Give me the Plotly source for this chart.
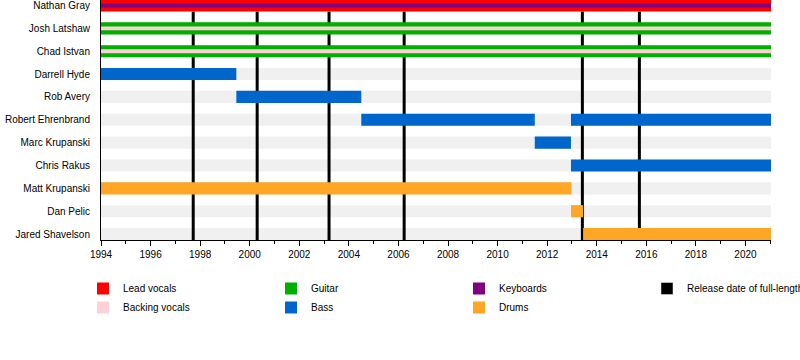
import plotly.graph_objects as go

# ---------------- data ----------------
members = ["Nathan Gray", "Josh Latshaw", "Chad Istvan", "Darrell Hyde", "Rob Avery",
           "Robert Ehrenbrand", "Marc Krupanski", "Chris Rakus", "Matt Krupanski",
           "Dan Pelic", "Jared Shavelson"]

start_year = 1994.0
end_year = 2021.03

# role periods: (member, start, end)
lead_vocals = [("Nathan Gray", 1994.0, 2021.03)]
keyboards = [("Nathan Gray", 1994.0, 2021.03)]
guitar = [("Josh Latshaw", 1994.0, 2021.03), ("Chad Istvan", 1994.0, 2021.03)]
backing_vocals = [("Josh Latshaw", 1994.0, 2021.03), ("Chad Istvan", 1994.0, 2021.03)]
bass = [("Darrell Hyde", 1994.0, 1999.46), ("Rob Avery", 1999.46, 2004.5),
        ("Robert Ehrenbrand", 2004.5, 2011.5), ("Marc Krupanski", 2011.5, 2012.96),
        ("Robert Ehrenbrand", 2012.96, 2021.03), ("Chris Rakus", 2012.96, 2021.03)]
drums = [("Matt Krupanski", 1994.0, 2012.98), ("Dan Pelic", 2012.96, 2013.45),
         ("Jared Shavelson", 2013.45, 2021.03)]

album_releases = [1997.72, 2000.3, 2003.2, 2006.23, 2013.42, 2015.72]

tick_years = list(range(1994, 2021, 2))

# ---------------- style ----------------
FONT = "Liberation Sans, Arial, sans-serif"
FS = 10
colors = {
    "Lead vocals": "#FF0000",
    "Backing vocals": "#FFD0D8",
    "Guitar": "#00B000",
    "Bass": "#0066CC",
    "Keyboards": "#800080",
    "Drums": "#FFA626",
}
row_idx = {m: i for i, m in enumerate(members)}
THICK = 0.53
THIN = 0.17

fig = go.Figure()


def add_role(name, periods, width, legend, rank):
    fig.add_trace(go.Bar(
        orientation="h",
        y=[row_idx[p[0]] for p in periods],
        base=[p[1] for p in periods],
        x=[p[2] - p[1] for p in periods],
        width=width,
        marker=dict(color=colors[name], line=dict(width=0)),
        name=name,
        legend=legend,
        legendrank=rank,
        hoverinfo="skip",
    ))


add_role("Lead vocals", lead_vocals, THICK, "legend", 1)
add_role("Guitar", guitar, THICK, "legend2", 1)
add_role("Bass", bass, THICK, "legend2", 2)
add_role("Drums", drums, THICK, "legend3", 2)
add_role("Keyboards", keyboards, THIN, "legend3", 1)
add_role("Backing vocals", backing_vocals, THIN, "legend", 2)

# legend entry for album release lines
fig.add_trace(go.Bar(orientation="h", x=[None], y=[None],
                     marker=dict(color="#000000"),
                     name="Release date of full-length studio albums",
                     legend="legend4", hoverinfo="skip"))

shapes = []
# grey row stripes
for m in members:
    i = row_idx[m]
    shapes.append(dict(type="rect", xref="paper", yref="y", x0=0, x1=1,
                       y0=i - THICK / 2, y1=i + THICK / 2,
                       fillcolor="#F0F0F0", line=dict(width=0), layer="below"))
# album release lines
for r in album_releases:
    shapes.append(dict(type="line", xref="x", yref="y", x0=r, x1=r,
                       y0=0 + THICK / 2, y1=len(members) - 0.5 + 0.26,
                       line=dict(color="#000000", width=3), layer="below"))

leg_common = dict(orientation="v", xref="container", yref="container",
                  xanchor="left", yanchor="top", bgcolor="rgba(0,0,0,0)",
                  font=dict(family=FONT, size=FS, color="#000000"),
                  traceorder="normal", itemclick=False, itemdoubleclick=False)
ly = 1 - 274 / 360
fig.update_layout(
    width=800, height=360,
    margin=dict(l=101, r=29, t=0, b=120, autoexpand=False),
    paper_bgcolor="white", plot_bgcolor="white",
    barmode="overlay",
    showlegend=True,
    font=dict(family=FONT, size=FS, color="#000000"),
    shapes=shapes,
    xaxis=dict(range=[start_year, end_year], tickvals=tick_years,
               ticks="outside", ticklen=5, tickwidth=1, tickcolor="#000",
               minor=dict(dtick=1, tick0=1994, ticks="outside", ticklen=3, tickcolor="#000"),
               showline=True, linecolor="#000", linewidth=1,
               showgrid=False, zeroline=False, fixedrange=True, automargin=False,
               tickfont=dict(family=FONT, size=FS, color="#000")),
    yaxis=dict(range=[len(members) - 0.74, -0.24], tickvals=list(range(len(members))),
               ticktext=members, ticks="", showline=True, linecolor="#000", linewidth=1,
               showgrid=False, zeroline=False, fixedrange=True, ticklabelstandoff=8,
               automargin=False, ticklabeloverflow="allow",
               tickfont=dict(family=FONT, size=FS, color="#000")),
    legend=dict(x=83 / 800, y=ly, **leg_common),
    legend2=dict(x=271 / 800, y=ly, **leg_common),
    legend3=dict(x=459 / 800, y=ly, **leg_common),
    legend4=dict(x=647 / 800, y=ly, **leg_common),
)

fig.write_html("out.html", config={"displayModeBar": False},
               post_script="document.body.style.margin='0';document.body.style.overflow='hidden';")
